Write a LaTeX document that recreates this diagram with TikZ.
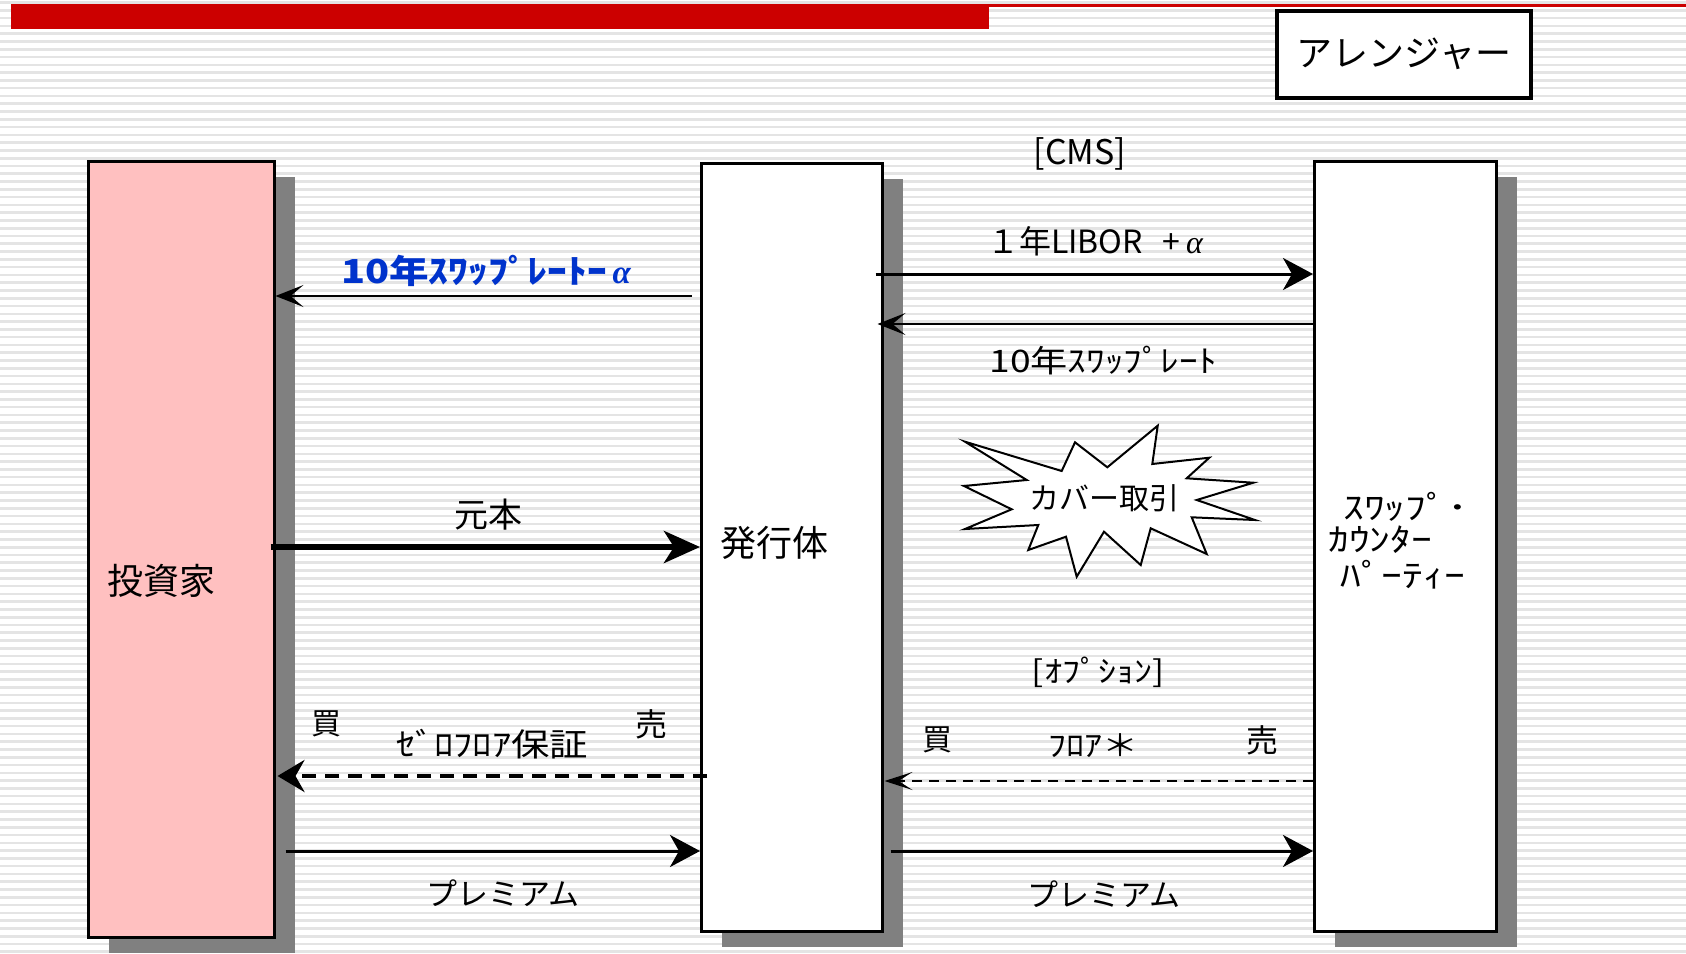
\documentclass[tikz,border=0pt]{standalone}
\usepackage{fontspec}
\setmainfont{Noto Sans CJK JP}
\newfontfamily\jpw[FakeStretch=1.2]{Noto Sans CJK JP}
\newfontfamily\jpww[FakeStretch=1.3]{Noto Sans CJK JP}
\newfontfamily\grk{Liberation Serif}
\usetikzlibrary{arrows.meta,calc,shadows}
\definecolor{redc}{HTML}{CC0000}
\definecolor{pinkc}{HTML}{FFC0C0}
\definecolor{shadowc}{HTML}{808080}
\definecolor{bluec}{HTML}{0033CC}
\definecolor{stripec}{HTML}{E4E4E4}
\newcommand{\alp}{{\grk\itshape α}}
\tikzset{
  party/.style={draw=black, line width=2.5pt, anchor=north west, inner sep=0pt,
    drop shadow={shadow xshift=21pt, shadow yshift=-16pt, fill=shadowc, opacity=1}},
  lbl/.style={inner sep=0pt, text=black},
  bigtip/.tip={Stealth[length=30pt,width=32pt,inset=9pt]},
  thintip/.tip={Stealth[length=28pt,width=22pt,inset=13pt]},
  flow/.style={line width=3pt, -bigtip},
  thinflow/.style={line width=2pt, -thintip},
}
\begin{document}
\begin{tikzpicture}[x=1pt,y=-1pt]
\useasboundingbox (0,0) rectangle (1686,953);
\fill[white] (0,0) rectangle (1686,953);
% stripes
\foreach \k in {0,...,122}{
  \draw[stripec,line width=2.6pt] (0,{2.6+7.78*\k}) -- (1686,{2.6+7.78*\k});
}
% title bars
\fill[redc] (11,4) rectangle (989,29);
\draw[redc,line width=3pt] (989,5) -- (1686,5);
% arranger
\node[draw=black, line width=4pt, fill=white, anchor=north west, inner sep=0pt,
  minimum width=254pt, minimum height=87pt] (arr) at (1275,8.5)
  {\fontsize{36}{40}\selectfont アレンジャー};
% parties
\node[party, fill=pinkc, minimum width=186pt, minimum height=776pt] (inv) at (87,160) {};
\node[party, fill=white, minimum width=181pt, minimum height=768pt] (mid) at (700,162) {};
\node[party, fill=white, minimum width=182pt, minimum height=770pt] (cp) at (1313,160) {};
% party labels
\node[lbl] (invl) at (161,581) {\fontsize{36}{40}\selectfont 投資家};
\node[lbl] (midl) at (774,543) {\fontsize{36}{40}\selectfont 発行体};
\node[lbl, anchor=west] (cpl1) at (1343,507) {\jpww\fontsize{32}{34}\selectfont ｽﾜｯﾌﾟ･};
\node[lbl, anchor=west] (cpl2) at (1328,540) {\jpww\fontsize{32}{34}\selectfont ｶｳﾝﾀｰ};
\node[lbl, anchor=west] (cpl3) at (1340,575) {\jpww\fontsize{32}{34}\selectfont ﾊﾟｰﾃｨｰ};
% starburst
\draw[line width=2pt, fill=white, line join=miter]
  (965,441.7) -- (1061.7,471) -- (1075,442.3) -- (1107.3,467.3) -- (1157.7,425.7)
  -- (1152.3,464) -- (1209.3,457.7) -- (1186.7,478.3) -- (1253.3,482.7)
  -- (1196.7,500) -- (1255,520) -- (1191.7,517.3) -- (1206.7,554)
  -- (1150.7,528.3) -- (1140.7,565) -- (1104,531.7) -- (1076.7,576.7)
  -- (1066,536.7) -- (1028.3,550) -- (1038.3,525) -- (965,529)
  -- (1011.7,509.3) -- (964,486) -- (1026.7,480) -- cycle;
\node[lbl] (cover) at (1104,498) {\fontsize{30}{34}\selectfont カバー取引};
% level coordinates
\coordinate (yA) at (0,274);
\coordinate (yB) at (0,324);
\coordinate (yBl) at (0,296);
\coordinate (yP) at (0,547);
\coordinate (yZ) at (0,776);
\coordinate (yF) at (0,781);
\coordinate (yPr) at (0,851);
% right side texts
\node[lbl] (cms) at (1080,154) {\fontsize{34}{38}\selectfont [CMS]};
\node[lbl] (libor) at (1095,241) {\fontsize{32}{36}\selectfont １年LIBOR\hspace{20pt}+\,\alp};
\node[lbl] (swr) at (1103,361) {\jpw\fontsize{31}{36}\selectfont 10年ｽﾜｯﾌﾟﾚｰﾄ};
\node[lbl] (opt) at (1098,672) {\jpw\fontsize{30}{34}\selectfont [ｵﾌﾟｼｮﾝ]};
\node[lbl] (buyr) at (937,740) {\fontsize{30}{34}\selectfont 買};
\node[lbl] (floor) at (1093,746) {\jpw\fontsize{30}{34}\selectfont ﾌﾛｱ＊};
\node[lbl] (sellr) at (1262,740) {\fontsize{32}{36}\selectfont 売};
\node[lbl] (premr) at (1104,894) {\fontsize{31}{36}\selectfont プレミアム};
% left side texts
\node[lbl, text=bluec] (blue) at (486,271) {\jpw\bfseries\fontsize{33}{38}\selectfont 10年ｽﾜｯﾌﾟﾚｰﾄｰ\,\alp};
\node[lbl] (prin) at (488,515) {\fontsize{34}{38}\selectfont 元本};
\node[lbl] (buyl) at (326,724) {\fontsize{30}{34}\selectfont 買};
\node[lbl] (zero) at (492,744) {\jpw\fontsize{32}{36}\selectfont ｾﾞﾛﾌﾛｱ保証};
\node[lbl] (selll) at (651,724) {\fontsize{32}{36}\selectfont 売};
\node[lbl] (preml) at (503,893) {\fontsize{31}{36}\selectfont プレミアム};
% connectors
\draw[flow] ($(mid.east|-yA)+(-8,0)$) -- (cp.west|-yA);
\draw[thinflow] (cp.west|-yB) -- ($(mid.east|-yB)+(-6,0)$);
\draw[thinflow] ($(mid.west|-yBl)+(-8,0)$) -- (inv.east|-yBl);
\draw[line width=6pt, -{Stealth[length=36pt,width=32pt,inset=10pt]}] ($(inv.east|-yP)+(-5,0)$) -- (mid.west|-yP);
\draw[line width=4pt, dash pattern=on 14pt off 9pt, -{Stealth[length=27pt,width=32pt,inset=9pt]}] ($(mid.west|-yZ)+(7,0)$) -- ($(inv.east|-yZ)+(2,0)$);
\draw[flow] ($(inv.east|-yPr)+(10,0)$) -- (mid.west|-yPr);
\draw[line width=2pt, dash pattern=on 10pt off 7pt, -{Stealth[length=28pt,width=18pt,inset=14pt]}] (cp.west|-yF) -- ($(mid.east|-yF)+(1,0)$);
\draw[flow] ($(mid.east|-yPr)+(7,0)$) -- (cp.west|-yPr);
\end{tikzpicture}
\end{document}
